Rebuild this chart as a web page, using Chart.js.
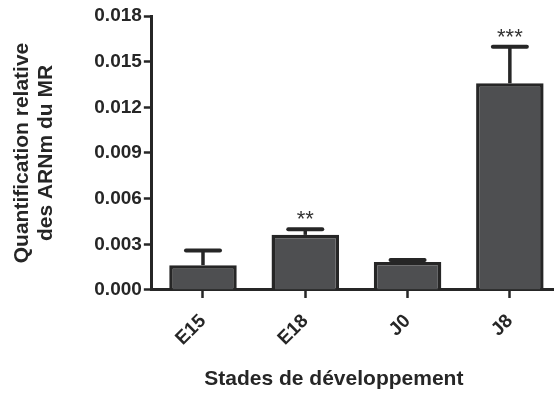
<!DOCTYPE html>
<html>
<head>
<meta charset="utf-8">
<script src="https://cdn.jsdelivr.net/npm/chart.js@4"></script>
<style>
  html, body { margin: 0; padding: 0; background: #fff; overflow: hidden; }
  #cadre { width: 554px; height: 393px; overflow: hidden; position: relative; }
  #cadre canvas { position: absolute; left: 0; top: 0; }
</style>
</head>
<body>
<div id="cadre"><canvas id="graficoCanvas" width="570" height="393"></canvas></div>
<script>
// Stades de développement
const stades = ['E15', 'E18', 'J0', 'J8'];
// Quantification relative (moyenne)
const moyennes = [0.00163, 0.00362, 0.00184, 0.01358];
// Erreur standard (barre du haut)
const erreurs = [0.00096, 0.00037, 0.00013, 0.00240];
// Significativité
const etoiles = ['', '**', '', '***'];
// Graduations de l'axe Y
const ticksY = [0, 0.003, 0.006, 0.009, 0.012, 0.015, 0.018];

const couleurTexte = '#262626';
const police = '"Liberation Sans", Arial, sans-serif';

// Barres d'erreur, étoiles et titre de l'axe X
const extras = {
  id: 'extras',
  afterDatasetsDraw(chart) {
    const ctx = chart.ctx;
    const x = chart.scales.x, y = chart.scales.y;
    ctx.save();
    ctx.strokeStyle = '#262626';
    moyennes.forEach((m, i) => {
      const px = x.getPixelForValue(i);
      const yBas = y.getPixelForValue(m);
      const yHaut = y.getPixelForValue(m + erreurs[i]);
      ctx.lineWidth = 3.5;
      ctx.beginPath(); ctx.moveTo(px, yBas); ctx.lineTo(px, yHaut); ctx.stroke();
      ctx.lineWidth = 4;
      ctx.lineCap = 'round';
      ctx.beginPath(); ctx.moveTo(px - 17, yHaut); ctx.lineTo(px + 17, yHaut); ctx.stroke();
      ctx.lineCap = 'butt';
      if (etoiles[i]) {
        ctx.fillStyle = '#333';
        ctx.font = '22px ' + police;
        ctx.textAlign = 'center';
        ctx.textBaseline = 'alphabetic';
        ctx.fillText(etoiles[i], px, yHaut - 3);
      }
    });
    // titre X
    ctx.fillStyle = couleurTexte;
    ctx.font = 'bold 21px ' + police;
    ctx.textAlign = 'center';
    ctx.textBaseline = 'alphabetic';
    ctx.fillText('Stades de développement', chart.chartArea.left + 182, 385);
    ctx.restore();
  }
};

const ctx = document.getElementById('graficoCanvas').getContext('2d');
new Chart(ctx, {
  type: 'bar',
  data: {
    labels: stades,
    datasets: [{
      data: moyennes,
      backgroundColor: '#4e4f51',
      borderColor: '#262626',
      borderWidth: 3.5,
      borderSkipped: 'bottom',
      barPercentage: 0.66,
      categoryPercentage: 1
    }]
  },
  options: {
    responsive: false,
    devicePixelRatio: 1,
    animation: false,
    layout: { padding: { left: 6, right: 9, top: 16, bottom: 31 } },
    plugins: { legend: { display: false }, tooltip: { enabled: false } },
    scales: {
      x: {
        grid: { offset: false, drawOnChartArea: false, tickLength: 8, tickWidth: 2.5, tickColor: '#262626' },
        border: { color: '#262626', width: 3 },
        ticks: {
          color: couleurTexte,
          font: { family: police, size: 19, weight: 'bold' },
          minRotation: 45, maxRotation: 45, padding: 12
        }
      },
      y: {
        min: 0, max: 0.018,
        afterBuildTicks: axis => { axis.ticks = ticksY.map(v => ({ value: v })); },
        grid: { drawOnChartArea: false, tickLength: 8, tickWidth: 2.5, tickColor: '#262626' },
        border: { color: '#262626', width: 3 },
        ticks: {
          color: couleurTexte,
          font: { family: police, size: 19, weight: 'bold' },
          padding: 2,
          callback: v => v.toFixed(3)
        },
        title: {
          display: true,
          text: ['Quantification relative', 'des ARNm du MR'],
          color: couleurTexte,
          font: { family: police, size: 21, weight: 'bold', lineHeight: 1.15 },
          padding: { top: 4, bottom: 34 }
        }
      }
    }
  },
  plugins: [extras]
});
</script>
</body>
</html>
